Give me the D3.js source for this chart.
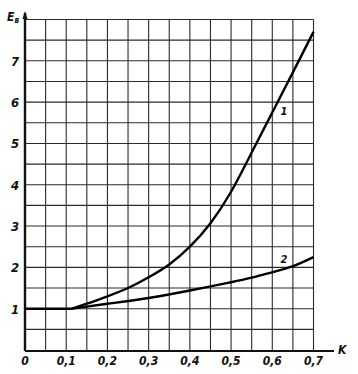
<!DOCTYPE html>
<html><head><meta charset="utf-8">
<script src="https://cdn.jsdelivr.net/npm/d3@7"></script>
<style>body{margin:0;background:#fff}svg{display:block}
text{font-family:"Liberation Sans Narrow","DejaVu Sans Condensed",sans-serif;font-style:italic;font-weight:bold;fill:#111}</style>
</head><body>
<script>
const xTicks = [0, 0.1, 0.2, 0.3, 0.4, 0.5, 0.6, 0.7];
const xTickLabels = ["0", "0,1", "0,2", "0,3", "0,4", "0,5", "0,6", "0,7"];
const yTicks = [1, 2, 3, 4, 5, 6, 7];
const yTickLabels = ["1", "2", "3", "4", "5", "6", "7"];
const baseK = [0, 0.114];
const baseE = [1.0, 1.0];
const curve1K = [0.114, 0.15, 0.2, 0.25, 0.3, 0.35, 0.4, 0.45, 0.5, 0.55, 0.6, 0.65, 0.7];
const curve1E = [1.0, 1.12, 1.3, 1.5, 1.76, 2.07, 2.5, 3.07, 3.83, 4.78, 5.75, 6.72, 7.7];
const curve2K = [0.114, 0.2, 0.3, 0.4, 0.45, 0.5, 0.55, 0.6, 0.65, 0.7];
const curve2E = [1.0, 1.12, 1.26, 1.44, 1.54, 1.64, 1.75, 1.88, 2.03, 2.25];
const curveLabels = ["1", "2"];

const W = 358, H = 374;
const svg = d3.select("body").append("svg").attr("width", W).attr("height", H);
const x = d3.scaleLinear().domain([0, 0.7]).range([25, 313.5]);
const y = d3.scaleLinear().domain([0, 8]).range([350, 19.5]);

// grid
const g = svg.append("g").attr("stroke", "#2a2a2a").attr("stroke-width", 1.1);
d3.range(1, 15).forEach(i => {
  const v = i * 0.05;
  g.append("line").attr("x1", x(v)).attr("x2", x(v)).attr("y1", y(8)).attr("y2", y(0));
});
d3.range(1, 17).forEach(i => {
  const v = i * 0.5;
  g.append("line").attr("x1", x(0)).attr("x2", x(0.7)).attr("y1", y(v)).attr("y2", y(v));
});

// axes
svg.append("line").attr("x1", x(0)).attr("x2", 334).attr("y1", y(0) + 1).attr("y2", y(0) + 1)
  .attr("stroke", "#111").attr("stroke-width", 2.2);
svg.append("line").attr("x1", x(0)).attr("x2", x(0)).attr("y1", y(0) + 1).attr("y2", 13)
  .attr("stroke", "#111").attr("stroke-width", 2.4);
svg.append("path").attr("d", `M${x(0)-2.5},19 L${x(0)},11 L${x(0)+2.5},19 Z`).attr("fill", "#111");

// tick labels
svg.selectAll(".yl").data(yTicks).enter().append("text")
  .attr("x", 15).attr("y", d => y(d) + 5).attr("text-anchor", "middle")
  .attr("font-size", 13).text((d, i) => yTickLabels[i]);
svg.selectAll(".xl").data(xTicks).enter().append("text")
  .attr("x", d => x(d)).attr("y", 365).attr("text-anchor", "middle")
  .attr("font-size", 12).text((d, i) => xTickLabels[i]);

// axis titles
const et = svg.append("text").attr("x", 7).attr("y", 21).attr("font-size", 12);
et.append("tspan").text("E");
et.append("tspan").attr("font-size", 8).attr("dy", 2).text("в");
svg.append("text").attr("x", 338).attr("y", 354).attr("font-size", 12).text("K");

// curves
const straight = d3.line().x(d => x(d[0])).y(d => y(d[1]));
const smooth = d3.line().x(d => x(d[0])).y(d => y(d[1])).curve(d3.curveNatural);
const sty = p => p.attr("fill", "none").attr("stroke", "#000").attr("stroke-width", 2.4).attr("stroke-linejoin", "round");
svg.append("path").datum(baseK.map((k, i) => [k, baseE[i]])).attr("d", straight).call(sty);
svg.append("path").datum(curve1K.map((k, i) => [k, curve1E[i]])).attr("d", smooth).call(sty);
svg.append("path").datum(curve2K.map((k, i) => [k, curve2E[i]])).attr("d", smooth).call(sty);

svg.append("text").attr("x", x(0.62)).attr("y", y(5.68)).attr("font-size", 11).text(curveLabels[0]);
svg.append("text").attr("x", x(0.62)).attr("y", y(2.1)).attr("font-size", 11).text(curveLabels[1]);
</script>
</body></html>
